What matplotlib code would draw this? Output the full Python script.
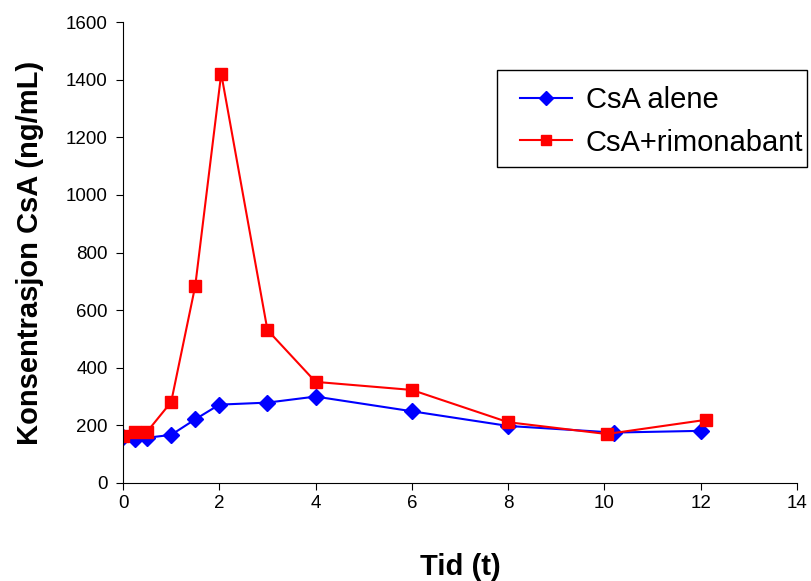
import matplotlib.pyplot as plt
from matplotlib.patches import Rectangle

plt.rcParams['font.family'] = ['Liberation Sans', 'DejaVu Sans']

# tid (timer)
tid_alene = [0, 0.25, 0.5, 1, 1.5, 2, 3, 4, 6, 8, 10.2, 12]
csa_alene = [160, 152, 157, 167, 221, 272, 279, 300, 249, 198, 175, 181]

tid_rimo = [0, 0.25, 0.5, 1, 1.5, 2.04, 3, 4, 6, 8, 10.05, 12.1]
csa_rimo = [163, 178, 178, 281, 684, 1421, 531, 351, 323, 211, 170, 219]

fig = plt.figure(figsize=(8.12, 5.81), dpi=100)
fig.subplots_adjust(left=0.1515, right=0.9815, top=0.962, bottom=0.1687)
ax = fig.add_subplot(1, 1, 1)

ax.plot(tid_alene, csa_alene, color='#0000ff', marker='D', markersize=8,
        linewidth=1.5, label='CsA alene')
ax.plot(tid_rimo, csa_rimo, color='#ff0000', marker='s', markersize=8,
        linewidth=1.5, label='CsA+rimonabant')

ax.set_xlim(0, 14)
ax.set_ylim(0, 1600)
ax.set_xticks(range(0, 15, 2))
ax.set_yticks(range(0, 1601, 200))
ax.tick_params(labelsize=13.5, direction='out', length=5)
ax.tick_params(axis='y', pad=6)

ax.spines['top'].set_visible(False)
ax.spines['right'].set_visible(False)

ax.set_xlabel('Tid (t)', fontsize=21, fontweight='bold', labelpad=30)
ax.set_ylabel('Konsentrasjon CsA (ng/mL)', fontsize=21, fontweight='bold', labelpad=16)

# legende uten ramme, boksen tegnes selv
leg = ax.legend(loc='upper left', bbox_to_anchor=(520/812, 1 - 86/581),
                bbox_transform=fig.transFigure, fontsize=21, frameon=False,
                handlelength=1.8, handletextpad=0.45, borderpad=0,
                labelspacing=0.5, borderaxespad=0, markerscale=0.85)
fig.patches.append(Rectangle((497/812, 1 - 167/581), 310/812, 97/581,
                             transform=fig.transFigure, fill=False,
                             edgecolor='black', linewidth=1.0))

plt.savefig('out.png', dpi=100)
